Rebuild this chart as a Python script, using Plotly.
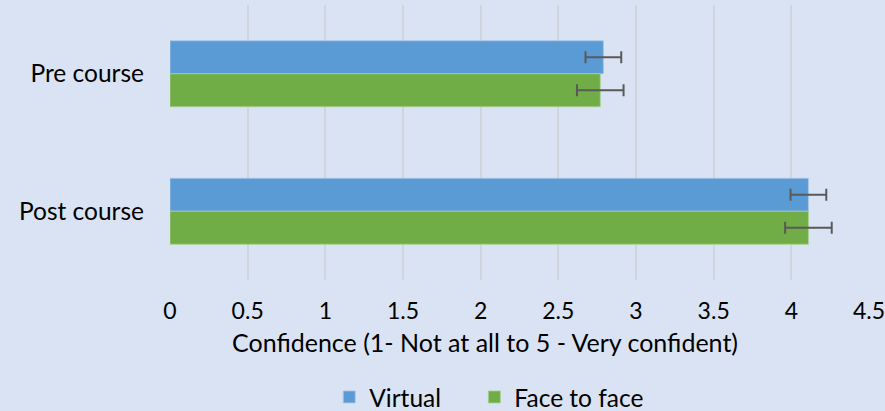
import plotly.graph_objects as go

categories = ["Pre course", "Post course"]
virtual = [2.79, 4.11]
virtual_err = [0.115, 0.115]
face = [2.77, 4.11]
face_err = [0.15, 0.15]
x_ticks = [0, 0.5, 1, 1.5, 2, 2.5, 3, 3.5, 4, 4.5]
x_labels = ["0", "0.5", "1", "1.5", "2", "2.5", "3", "3.5", "4", "4.5"]
x_title = "Confidence (1- Not at all to 5 - Very confident)"

FONT = "Lato"
BG = "#dae3f3"

fig = go.Figure()
fig.add_trace(go.Bar(
    name="Virtual", y=categories, x=virtual, orientation="h", legend="legend",
    marker=dict(color="#5b9bd5", line=dict(color="#a9c6ea", width=0.8)),
    error_x=dict(type="data", array=virtual_err, color="#595959", thickness=2, width=6),
))
fig.add_trace(go.Bar(
    name="Face to face", y=categories, x=face, orientation="h", legend="legend2",
    marker=dict(color="#70ad47", line=dict(color="#a9d18e", width=0.8)),
    error_x=dict(type="data", array=face_err, color="#595959", thickness=2, width=6),
))

fig.add_annotation(text=x_title, xref="paper", yref="paper", x=0.4506, y=-0.2255,
                   xanchor="center", yanchor="middle", showarrow=False,
                   font=dict(family=FONT, size=25, color="#000000"))

legend_common = dict(orientation="h", yref="container", y=0.034, yanchor="middle",
                     xref="container", xanchor="left",
                     font=dict(family=FONT, size=24.5, color="#000000"),
                     itemwidth=30, bgcolor="rgba(0,0,0,0)")

fig.update_layout(
    width=885, height=411,
    paper_bgcolor=BG, plot_bgcolor=BG,
    barmode="group", bargap=0.52, bargroupgap=0,
    margin=dict(l=170, r=16, t=5, b=131, autoexpand=False),
    font=dict(family=FONT, size=24, color="#000000"),
    showlegend=True,
    legend=dict(x=0.372, **legend_common),
    legend2=dict(x=0.536, **legend_common),
    xaxis=dict(range=[0, 4.5], tickvals=x_ticks, ticktext=x_labels,
               showgrid=True, gridcolor="#d0d4db", gridwidth=1.5,
               zeroline=False, showline=False, ticks="", automargin=False,
               ticklabelstandoff=15, ticklabeloverflow="allow",
               tickfont=dict(family=FONT, size=23)),
    yaxis=dict(autorange="reversed", showgrid=False, zeroline=False, showline=False,
               ticks="", ticklabelstandoff=25, automargin=False,
               tickfont=dict(family=FONT, size=24.5)),
)

fig.write_html("out.html", config={"displayModeBar": False},
               post_script="document.body.style.margin='0';")
